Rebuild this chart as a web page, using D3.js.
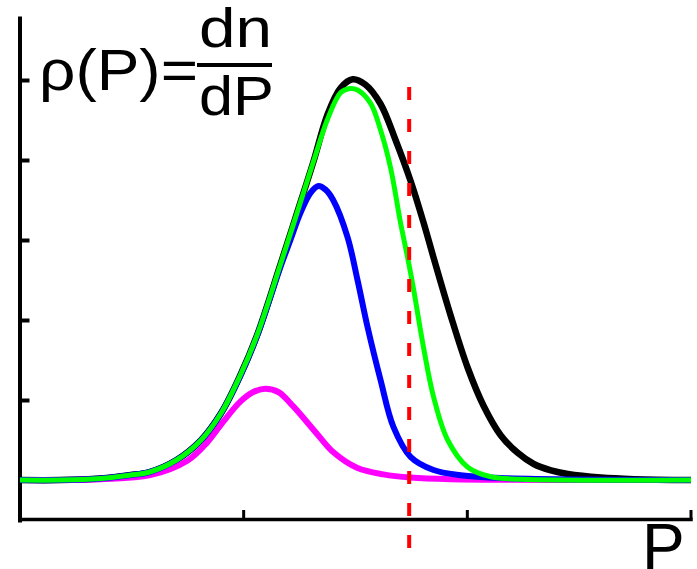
<!DOCTYPE html>
<html>
<head>
<meta charset="utf-8">
<script src="https://cdn.jsdelivr.net/npm/d3@7"></script>
<style>
  body { margin: 0; background: #fff; }
  svg { display: block; }
  text { font-family: "Liberation Sans", Arial, sans-serif; fill: #000; }
</style>
</head>
<body>
<div id="chart"></div>
<script>
// valores (P de 0 a 30, rho a partir da linha de base)
const blackP   = [0, 1.8, 3.6, 4.9, 5.8, 7.0, 8.1, 9.0, 9.85, 10.6, 11.64, 12.4, 13.12, 13.75, 14.33, 14.87, 15.45, 16.12, 16.79, 17.46, 18.04, 18.49, 19.25, 20.02, 20.73, 21.49, 22.25, 22.97, 23.74, 24.49, 25.97, 27.45, 30];
const blackRho = [0, 0, 0.02, 0.06, 0.1, 0.25, 0.5, 0.84, 1.31, 1.81, 2.69, 3.35, 3.98, 4.57, 4.9, 5.01, 4.94, 4.7, 4.25, 3.74, 3.22, 2.78, 2.06, 1.4, 0.925, 0.56, 0.34, 0.2, 0.12, 0.075, 0.03, 0.01, 0];

const greenP   = [0, 1.8, 3.6, 4.9, 5.8, 7.0, 8.1, 9.0, 9.85, 10.6, 11.64, 12.4, 13.12, 13.75, 14.33, 14.69, 15.09, 15.67, 16.12, 16.57, 17.01, 17.33, 17.6, 18.04, 18.49, 19.12, 20.02, 21.05, 22.39, 30];
const greenRho = [0, 0, 0.02, 0.06, 0.1, 0.25, 0.5, 0.84, 1.31, 1.81, 2.69, 3.35, 3.98, 4.51, 4.84, 4.89, 4.875, 4.71, 4.375, 3.9, 3.22, 2.78, 2.38, 1.66, 1.04, 0.5, 0.16, 0.04, 0.01, 0];

const blueP   = [0, 1.8, 3.6, 4.9, 5.8, 7.0, 8.1, 9.0, 9.85, 10.6, 11.64, 12.09, 12.54, 12.99, 13.34, 13.66, 14.0, 14.64, 15.09, 15.54, 16.12, 16.7, 17.46, 18.49, 19.7, 21.5, 30];
const blueRho = [0, 0, 0.02, 0.06, 0.1, 0.25, 0.5, 0.84, 1.3, 1.8, 2.66, 3.0, 3.34, 3.59, 3.675, 3.63, 3.5, 3.04, 2.5, 1.91, 1.25, 0.66, 0.29, 0.125, 0.06, 0.025, 0];

const magentaP   = [0, 3.58, 5.82, 7.48, 8.37, 9.09, 9.85, 10.43, 10.97, 11.55, 12.22, 13.3, 14.0, 15.09, 16.25, 17.46, 19.25, 30];
const magentaRho = [0, 0.01, 0.06, 0.24, 0.47, 0.73, 0.98, 1.1, 1.14, 1.1, 0.92, 0.57, 0.35, 0.15, 0.07, 0.03, 0.01, 0];

const cutP = 17.4;            // linha vermelha tracejada
const xTicks = [10, 20, 30];
const yTicks = [0, 1, 2, 3, 4, 5];

const width = 697, height = 569;

const svg = d3.select("#chart")
    .append("svg")
    .attr("width", width)
    .attr("height", height);

// escalas
const x = d3.scaleLinear().domain([0, 30]).range([20, 691]);
const y = d3.scaleLinear().domain([-0.5, 5.775]).range([520, 18]);

// eixo Y (marcas para dentro, sem rótulos)
const yAxis = svg.append("g")
    .attr("transform", "translate(19.5,0)")
    .call(d3.axisRight(y).tickValues(yTicks).tickSize(10).tickSizeOuter(0).tickFormat(""));
yAxis.select(".domain").attr("stroke-width", 4).attr("stroke-linecap", "square");
yAxis.selectAll(".tick line").attr("stroke-width", 4);

// eixo X
const xAxis = svg.append("g")
    .attr("transform", "translate(-0.5,519)")
    .call(d3.axisTop(x).tickValues(xTicks).tickSize(9).tickSizeOuter(0).tickFormat(""));
xAxis.select(".domain").attr("stroke-width", 3.5).attr("stroke-linecap", "square");
xAxis.selectAll(".tick line").attr("stroke-width", 3);

// curvas
const line = d3.line()
    .x(d => x(d[0]))
    .y(d => y(Math.max(0, d[1])))
    .curve(d3.curveCatmullRom.alpha(0.5));

const series = [
    { P: blackP, rho: blackRho, color: "#000000", w: 6.5 },
    { P: magentaP, rho: magentaRho, color: "#ff00ff", w: 6 },
    { P: blueP, rho: blueRho, color: "#0000ff", w: 6 },
    { P: greenP, rho: greenRho, color: "#00ff00", w: 5 }
];

series.forEach(s => {
    svg.append("path")
        .datum(d3.zip(s.P, s.rho))
        .attr("fill", "none")
        .attr("stroke", s.color)
        .attr("stroke-width", s.w)
        .attr("stroke-linejoin", "round")
        .attr("d", line);
});

// linha vertical tracejada
svg.append("line")
    .attr("x1", x(cutP)).attr("x2", x(cutP))
    .attr("y1", 87).attr("y2", 549)
    .attr("stroke", "#ff0000")
    .attr("stroke-width", 4)
    .attr("stroke-dasharray", "13,19");

// fórmula
svg.append("text")
    .attr("x", 39).attr("y", 90)
    .attr("textLength", 159)
    .attr("lengthAdjust", "spacingAndGlyphs")
    .style("font-size", "57px")
    .text("ρ(P)=");

svg.append("text")
    .attr("x", 199).attr("y", 47)
    .attr("textLength", 73)
    .attr("lengthAdjust", "spacingAndGlyphs")
    .style("font-size", "55px")
    .text("dn");

svg.append("line")
    .attr("x1", 197).attr("x2", 272)
    .attr("y1", 65).attr("y2", 65)
    .attr("stroke", "#000")
    .attr("stroke-width", 4);

svg.append("text")
    .attr("x", 199).attr("y", 115)
    .attr("textLength", 75)
    .attr("lengthAdjust", "spacingAndGlyphs")
    .style("font-size", "55px")
    .text("dP");

// rótulo do eixo X
svg.append("text")
    .attr("x", 642).attr("y", 569)
    .style("font-size", "64px")
    .text("P");
</script>
</body>
</html>
